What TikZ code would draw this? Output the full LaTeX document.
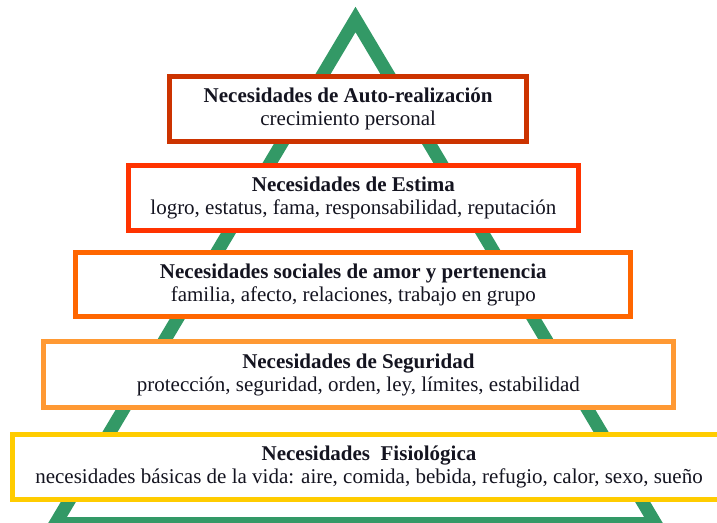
\documentclass[tikz,border=0pt]{standalone}
\usepackage{fontspec}
\setmainfont{Liberation Serif}
\definecolor{cA}{HTML}{CC3300}
\definecolor{cB}{HTML}{FF3300}
\definecolor{cC}{HTML}{FF6600}
\definecolor{cD}{HTML}{FF9933}
\definecolor{cE}{HTML}{FFCC00}
\definecolor{cG}{HTML}{339966}
\definecolor{txt}{HTML}{141420}
\begin{document}
\begin{tikzpicture}[x=1pt,y=-1pt,
  lvl/.style={draw=#1, line width=5pt, fill=white, align=center, inner sep=0pt,
    text=txt, font=\fontsize{21}{23}\selectfont},
  tri/.style={draw=cG, line width=13pt, line join=miter}]
\useasboundingbox (0,0) rectangle (717,522);
\clip (0,0) rectangle (717,522);
\coordinate (apex) at (355.5,19.5);
\coordinate (bl) at (55.5,523.5);
\coordinate (br) at (655.5,523.5);
\draw[tri] (apex) -- (bl) -- (br) -- cycle;
\node[lvl=cA, minimum width=356.7pt, minimum height=64.5pt] (b1) at (348.15,108.75)
  {\textbf{Necesidades de Auto-realización}\\crecimiento personal};
\node[lvl=cB, minimum width=450.3pt, minimum height=65pt] (b2) at (353.35,198.3)
  {\textbf{Necesidades de Estima}\\logro, estatus, fama, responsabilidad, reputación};
\node[lvl=cC, minimum width=555pt, minimum height=64.3pt] (b3) at (353.3,284.65)
  {\textbf{Necesidades sociales de amor y pertenencia}\\familia, afecto, relaciones, trabajo en grupo};
\node[lvl=cD, minimum width=629.7pt, minimum height=65.7pt] (b4) at (358.35,374.65)
  {\textbf{Necesidades de Seguridad}\\protección, seguridad, orden, ley, límites, estabilidad};
\node[lvl=cE, minimum width=713pt, minimum height=65pt] (b5) at (369,467)
  {\textbf{Necesidades\ \ Fisiológica}\\necesidades básicas de la vida: aire, comida, bebida, refugio, calor, sexo, sueño};
\end{tikzpicture}
\end{document}
